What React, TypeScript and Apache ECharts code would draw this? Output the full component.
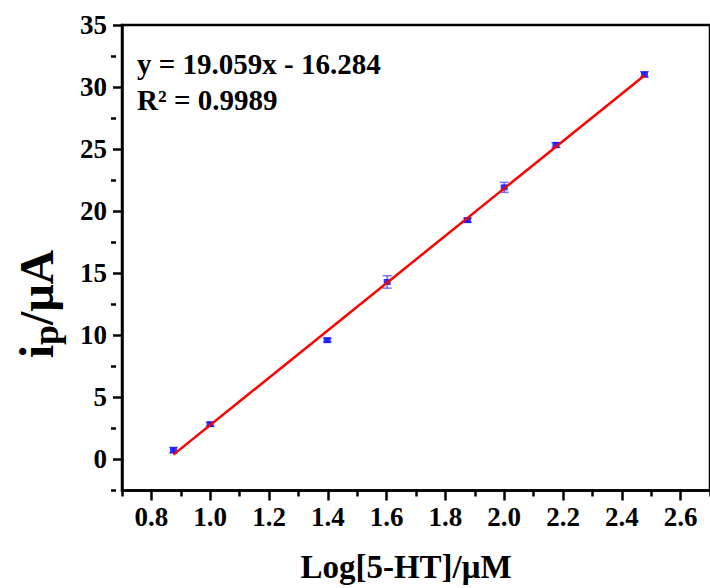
import React, { useEffect, useRef } from "react";
import * as echarts from "echarts";

// Log of concentration (x) and peak current (y) with error bars
const xValues = [0.875, 1.0, 1.398, 1.602, 1.875, 2.0, 2.176, 2.477];
const yValues = [0.75, 2.84, 9.61, 14.3, 19.28, 21.92, 25.33, 31.02];
const yErrors = [0.22, 0.15, 0.15, 0.5, 0.15, 0.4, 0.2, 0.22];

// Linear fit line endpoints
const fitX = [0.875, 2.477];
const fitY = [0.39, 30.93];

const xMajorTicks = [0.8, 1.0, 1.2, 1.4, 1.6, 1.8, 2.0, 2.2, 2.4, 2.6];
const xMinorTicks = [0.7, 0.9, 1.1, 1.3, 1.5, 1.7, 1.9, 2.1, 2.3, 2.5, 2.7];
const yMajorTicks = [0, 5, 10, 15, 20, 25, 30, 35];
const yMinorTicks = [-2.5, 2.5, 7.5, 12.5, 17.5, 22.5, 27.5, 32.5];

const equationLine = "y = 19.059x - 16.284";
const r2Line = "R² = 0.9989";
const xTitle = "Log[5-HT]/μM";

const FONT = "'Liberation Serif', 'Times New Roman', serif";

export default function App() {
  const ref = useRef<HTMLDivElement>(null);
  useEffect(() => {
    document.body.style.margin = "0";
    if (!ref.current) return;
    const chart = echarts.init(ref.current, undefined, { renderer: "svg" });
    const W = 710;
    const gridLeft = 122;
    const gridTop = 25;
    const gridRight = -6;
    const gridBottom = 97.5;
    const gridW = W - gridLeft - gridRight;
    const gridH = 588 - gridTop - gridBottom;
    const labelStyle = {
      fontFamily: FONT,
      fontWeight: "bold" as const,
      fontSize: 27,
      color: "#000",
    };
    chart.setOption({
      animation: false,
      backgroundColor: "#fff",
      grid: {
        left: gridLeft,
        top: gridTop,
        right: gridRight,
        bottom: gridBottom,
        show: true,
        borderColor: "#000",
        borderWidth: 2.5,
        backgroundColor: "transparent",
      },
      xAxis: [
        {
          type: "value",
          min: 0.7,
          max: 2.7,
          position: "bottom",
          axisLine: { show: true, onZero: false, lineStyle: { color: "#000", width: 2.5 } },
          axisTick: {
            show: true,
            customValues: xMajorTicks,
            length: 10,
            lineStyle: { color: "#000", width: 2.5 },
          },
          axisLabel: {
            customValues: xMajorTicks,
            formatter: (v: number) => v.toFixed(1),
            margin: 13,
            ...labelStyle,
          },
          splitLine: { show: false },
        },
        {
          type: "value",
          min: 0.7,
          max: 2.7,
          position: "top",
          offset: -gridH,
          axisLine: { show: false },
          axisTick: {
            show: true,
            inside: true,
            customValues: xMinorTicks,
            length: 6,
            lineStyle: { color: "#000", width: 2.5 },
          },
          axisLabel: { show: false },
          splitLine: { show: false },
        },
      ],
      yAxis: [
        {
          type: "value",
          min: -2.5,
          max: 35,
          position: "left",
          axisLine: { show: true, onZero: false, lineStyle: { color: "#000", width: 2.5 } },
          axisTick: {
            show: true,
            customValues: yMajorTicks,
            length: 9,
            lineStyle: { color: "#000", width: 2.5 },
          },
          axisLabel: {
            customValues: yMajorTicks,
            margin: 15,
            ...labelStyle,
          },
          splitLine: { show: false },
        },
        {
          type: "value",
          min: -2.5,
          max: 35,
          position: "right",
          offset: -gridW,
          axisLine: { show: false },
          axisTick: {
            show: true,
            inside: true,
            customValues: yMinorTicks,
            length: 5,
            lineStyle: { color: "#000", width: 2.5 },
          },
          axisLabel: { show: false },
          splitLine: { show: false },
        },
      ],
      series: [
        {
          type: "custom",
          xAxisIndex: 0,
          yAxisIndex: 0,
          encode: { x: 0, y: 1 },
          data: xValues.map((x, i) => [x, yValues[i], yErrors[i]]),
          renderItem: (params: any, api: any) => {
            const x = api.value(0);
            const y = api.value(1);
            const e = api.value(2);
            const hi = api.coord([x, y + e]);
            const lo = api.coord([x, y - e]);
            const w = 4.5;
            const stroke = "rgba(60,60,255,0.7)";
            return {
              type: "group",
              children: [
                { type: "line", shape: { x1: hi[0], y1: hi[1], x2: lo[0], y2: lo[1] }, style: { stroke, lineWidth: 1.5 } },
                { type: "line", shape: { x1: hi[0] - w, y1: hi[1], x2: hi[0] + w, y2: hi[1] }, style: { stroke, lineWidth: 1.5 } },
                { type: "line", shape: { x1: lo[0] - w, y1: lo[1], x2: lo[0] + w, y2: lo[1] }, style: { stroke, lineWidth: 1.5 } },
              ],
            };
          },
          z: 2,
        },
        {
          type: "scatter",
          xAxisIndex: 0,
          yAxisIndex: 0,
          data: xValues.map((x, i) => [x, yValues[i]]),
          symbol: "rect",
          symbolSize: [7, 6],
          itemStyle: { color: "#0000ff" },
          z: 3,
        },
        {
          type: "line",
          xAxisIndex: 0,
          yAxisIndex: 0,
          data: fitX.map((x, i) => [x, fitY[i]]),
          showSymbol: false,
          symbol: "none",
          lineStyle: { color: "#ff0000", width: 2.5 },
          z: 4,
        },
      ],
      graphic: [
        {
          type: "text",
          x: 137,
          y: 64,
          style: {
            text: equationLine,
            font: `bold 29px ${FONT}`,
            fill: "#000",
            verticalAlign: "middle",
          },
        },
        {
          type: "text",
          x: 137,
          y: 100,
          style: {
            text: r2Line,
            font: `bold 29px ${FONT}`,
            fill: "#000",
            verticalAlign: "middle",
          },
        },
        {
          type: "text",
          x: 406,
          y: 567,
          style: {
            text: xTitle,
            font: `bold 33px ${FONT}`,
            fill: "#000",
            align: "center",
            verticalAlign: "middle",
          },
        },
        {
          type: "text",
          x: 36,
          y: 304,
          rotation: Math.PI / 2,
          style: {
            text: "{b|i}{s|p}{b|/μA}",
            align: "center",
            verticalAlign: "middle",
            rich: {
              b: { fontFamily: FONT, fontWeight: "bold", fontSize: 48, fill: "#000", color: "#000" },
              s: { fontFamily: FONT, fontWeight: "bold", fontSize: 36, fill: "#000", color: "#000", padding: [20, 0, 0, 0] },
            },
          },
        },
      ],
    });
    return () => chart.dispose();
  }, []);
  return <div ref={ref} style={{ width: 710, height: 588 }} />;
}
